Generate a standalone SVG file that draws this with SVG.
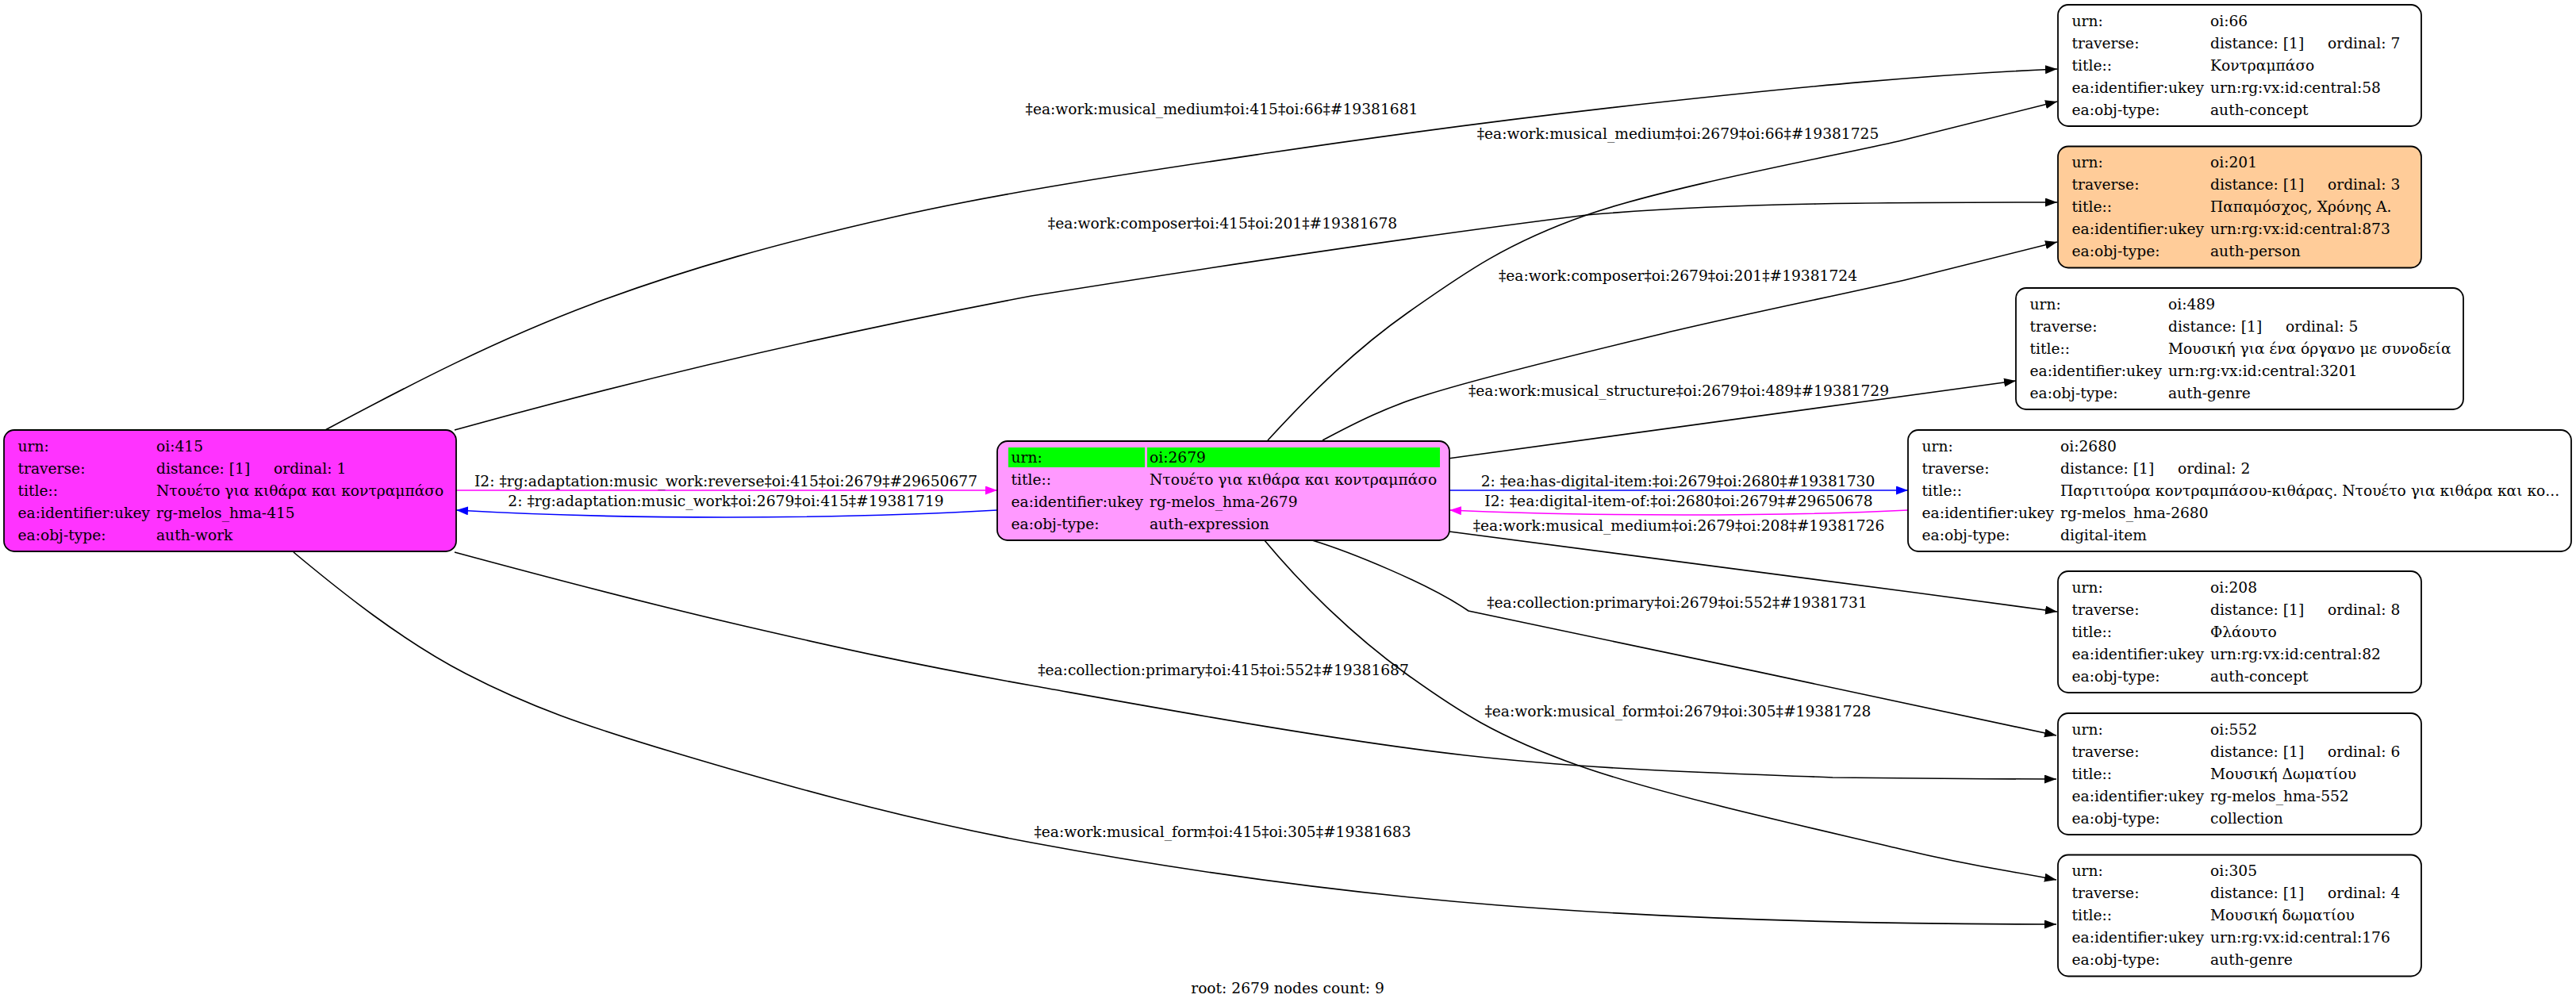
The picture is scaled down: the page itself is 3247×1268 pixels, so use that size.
<svg xmlns="http://www.w3.org/2000/svg" width="3247" height="1268" viewBox="0 0 3247 1268">
<style>
text{font-family:"DejaVu Serif","Liberation Serif",serif;font-size:18.67px;fill:#000}
.lbl{text-anchor:middle}
.box{stroke:#000;stroke-width:1.8}
.w{fill:#fff}
.e{fill:none;stroke-width:1.6}
.k{stroke:#000}
.b{stroke:#0000ff}
.m{stroke:#ff00ff}
</style>
<defs>
<marker id="ak" markerUnits="userSpaceOnUse" markerWidth="16" markerHeight="12" refX="15" refY="5.5" orient="auto"><path d="M0,0 L15,5.5 L0,11 z" fill="#000"/></marker>
<marker id="ab" markerUnits="userSpaceOnUse" markerWidth="16" markerHeight="12" refX="15" refY="5.5" orient="auto"><path d="M0,0 L15,5.5 L0,11 z" fill="#0000ff"/></marker>
<marker id="am" markerUnits="userSpaceOnUse" markerWidth="16" markerHeight="12" refX="15" refY="5.5" orient="auto"><path d="M0,0 L15,5.5 L0,11 z" fill="#ff00ff"/></marker>
</defs>
<rect width="3247" height="1268" fill="#fff"/>
<g id="edges">
<path class="e k" marker-end="url(#ak)" d="M410,542 C522,482 627,428 747,383 C867,338 987,305 1129,273 C1271,241 1435,217 1597,193 C1759,169 1934,146 2100,128 C2266,110 2429,94 2593,87"/>
<text class="lbl" x="1540" y="144">‡ea:work:musical_medium‡oi:415‡oi:66‡#19381681</text>
<path class="e k" marker-end="url(#ak)" d="M573,542 C815,475 1062,418 1300,373 C1538,335 1784,298 2000,271 C2180,255 2395,255 2593,255"/>
<text class="lbl" x="1541" y="288">‡ea:work:composer‡oi:415‡oi:201‡#19381678</text>
<path class="e k" marker-end="url(#ak)" d="M1598,555 C1653,495 1709,440 1776,393 C1843,346 1897,307 2000,271 C2103,235 2310,197 2393,178 L2593,128"/>
<text class="lbl" x="2115" y="175">‡ea:work:musical_medium‡oi:2679‡oi:66‡#19381725</text>
<path class="e k" marker-end="url(#ak)" d="M1667,555 C1710,532 1750,512 1800,497 C1872,474.5 1998,444 2098,420 C2198,396 2318,372 2401,353 L2593,305"/>
<text class="lbl" x="2115" y="354">‡ea:work:composer‡oi:2679‡oi:201‡#19381724</text>
<path class="e k" marker-end="url(#ak)" d="M1825,578 Q2150,535 2541,480"/>
<text class="lbl" x="2116" y="499">‡ea:work:musical_structure‡oi:2679‡oi:489‡#19381729</text>
<path class="e b" marker-end="url(#ab)" d="M1827,618 L2405,618"/>
<text class="lbl" x="2115" y="613">2: ‡ea:has-digital-item:‡oi:2679‡oi:2680‡#19381730</text>
<path class="e m" marker-end="url(#am)" d="M2405,643 C2250,651 2000,651 1827,643"/>
<text class="lbl" x="2116" y="638">I2: ‡ea:digital-item-of:‡oi:2680‡oi:2679‡#29650678</text>
<path class="e k" marker-end="url(#ak)" d="M1827,670 C2050,700 2330,735 2593,771"/>
<text class="lbl" x="2116" y="669">‡ea:work:musical_medium‡oi:2679‡oi:208‡#19381726</text>
<path class="e k" marker-end="url(#ak)" d="M1654,681 C1700,695 1800,735 1851,770 C2050,810 2400,887 2592,927"/>
<text class="lbl" x="2114" y="766">‡ea:collection:primary‡oi:2679‡oi:552‡#19381731</text>
<path class="e k" marker-end="url(#ak)" d="M1593,680 C1643,740 1706,801.5 1772,849 C1838,896.5 1886,928 1990,965 C2094,1002 2295,1046 2395,1070 C2495,1094 2526,1096 2592,1109"/>
<text class="lbl" x="2115" y="903">‡ea:work:musical_form‡oi:2679‡oi:305‡#19381728</text>
<path class="e m" marker-end="url(#am)" d="M575,618 L1257,618"/>
<text class="lbl" x="915" y="613">I2: ‡rg:adaptation:music_work:reverse‡oi:415‡oi:2679‡#29650677</text>
<path class="e b" marker-end="url(#ab)" d="M1257,643 C1050,655 780,655 575,643"/>
<text class="lbl" x="915" y="638">2: ‡rg:adaptation:music_work‡oi:2679‡oi:415‡#19381719</text>
<path class="e k" marker-end="url(#ak)" d="M573,696 C695,729 817,761 938,789 C1059,817 1148.5,837 1300,864 C1451.5,891 1679,933 1847,952 C2015,971 2186,975 2310,980 C2434,981 2498,982 2592,982"/>
<text class="lbl" x="1542" y="851">‡ea:collection:primary‡oi:415‡oi:552‡#19381687</text>
<path class="e k" marker-end="url(#ak)" d="M370,696 C430,746 506,807 587,849 C668,891 736,914.5 855,950 C974,985.5 1128,1030 1300,1062 C1472,1094 1674,1124 1889,1141 C2104,1158 2359,1165 2592,1165"/>
<text class="lbl" x="1541" y="1055">‡ea:work:musical_form‡oi:415‡oi:305‡#19381683</text>
</g>
<g id="n415" transform="translate(5,542)">
<rect class="box" width="570" height="153" rx="13" fill="#ff33ff"/>
<text x="17.5" y="26.5">urn:</text><text x="192" y="26.5">oi:415</text>
<text x="17.5" y="54.5">traverse:</text><text x="192" y="54.5">distance: [1]</text><text x="340" y="54.5">ordinal: 1</text>
<text x="17.5" y="82.5">title::</text><text x="192" y="82.5">Ντουέτο για κιθάρα και κοντραμπάσο</text>
<text x="17.5" y="110.5">ea:identifier:ukey</text><text x="192" y="110.5">rg-melos_hma-415</text>
<text x="17.5" y="138.5">ea:obj-type:</text><text x="192" y="138.5">auth-work</text>
</g>
<g id="n2679" transform="translate(1257,556)">
<rect class="box" width="570" height="125" rx="13" fill="#ff99ff"/>
<rect x="14" y="8" width="172" height="25" fill="#00ff00"/><rect x="189" y="8" width="369" height="25" fill="#00ff00"/>
<text x="17.5" y="26.5">urn:</text><text x="192" y="26.5">oi:2679</text>
<text x="17.5" y="54.5">title::</text><text x="192" y="54.5">Ντουέτο για κιθάρα και κοντραμπάσο</text>
<text x="17.5" y="82.5">ea:identifier:ukey</text><text x="192" y="82.5">rg-melos_hma-2679</text>
<text x="17.5" y="110.5">ea:obj-type:</text><text x="192" y="110.5">auth-expression</text>
</g>
<g id="n66" transform="translate(2594,6)">
<rect class="box w" width="458" height="153" rx="13"/>
<text x="17.5" y="26.5">urn:</text><text x="192" y="26.5">oi:66</text>
<text x="17.5" y="54.5">traverse:</text><text x="192" y="54.5">distance: [1]</text><text x="340" y="54.5">ordinal: 7</text>
<text x="17.5" y="82.5">title::</text><text x="192" y="82.5">Κοντραμπάσο</text>
<text x="17.5" y="110.5">ea:identifier:ukey</text><text x="192" y="110.5">urn:rg:vx:id:central:58</text>
<text x="17.5" y="138.5">ea:obj-type:</text><text x="192" y="138.5">auth-concept</text>
</g>
<g id="n201" transform="translate(2594,184.5)">
<rect class="box" width="458" height="153" rx="13" fill="#ffcc99"/>
<text x="17.5" y="26.5">urn:</text><text x="192" y="26.5">oi:201</text>
<text x="17.5" y="54.5">traverse:</text><text x="192" y="54.5">distance: [1]</text><text x="340" y="54.5">ordinal: 3</text>
<text x="17.5" y="82.5">title::</text><text x="192" y="82.5">Παπαμόσχος, Χρόνης Α.</text>
<text x="17.5" y="110.5">ea:identifier:ukey</text><text x="192" y="110.5">urn:rg:vx:id:central:873</text>
<text x="17.5" y="138.5">ea:obj-type:</text><text x="192" y="138.5">auth-person</text>
</g>
<g id="n489" transform="translate(2541,363)">
<rect class="box w" width="564" height="153" rx="13"/>
<text x="17.5" y="26.5">urn:</text><text x="192" y="26.5">oi:489</text>
<text x="17.5" y="54.5">traverse:</text><text x="192" y="54.5">distance: [1]</text><text x="340" y="54.5">ordinal: 5</text>
<text x="17.5" y="82.5">title::</text><text x="192" y="82.5">Μουσική για ένα όργανο με συνοδεία</text>
<text x="17.5" y="110.5">ea:identifier:ukey</text><text x="192" y="110.5">urn:rg:vx:id:central:3201</text>
<text x="17.5" y="138.5">ea:obj-type:</text><text x="192" y="138.5">auth-genre</text>
</g>
<g id="n2680" transform="translate(2405,542)">
<rect class="box w" width="836" height="153" rx="13"/>
<text x="17.5" y="26.5">urn:</text><text x="192" y="26.5">oi:2680</text>
<text x="17.5" y="54.5">traverse:</text><text x="192" y="54.5">distance: [1]</text><text x="340" y="54.5">ordinal: 2</text>
<text x="17.5" y="82.5">title::</text><text x="192" y="82.5">Παρτιτούρα κοντραμπάσου-κιθάρας. Ντουέτο για κιθάρα και κο...</text>
<text x="17.5" y="110.5">ea:identifier:ukey</text><text x="192" y="110.5">rg-melos_hma-2680</text>
<text x="17.5" y="138.5">ea:obj-type:</text><text x="192" y="138.5">digital-item</text>
</g>
<g id="n208" transform="translate(2594,720)">
<rect class="box w" width="458" height="153" rx="13"/>
<text x="17.5" y="26.5">urn:</text><text x="192" y="26.5">oi:208</text>
<text x="17.5" y="54.5">traverse:</text><text x="192" y="54.5">distance: [1]</text><text x="340" y="54.5">ordinal: 8</text>
<text x="17.5" y="82.5">title::</text><text x="192" y="82.5">Φλάουτο</text>
<text x="17.5" y="110.5">ea:identifier:ukey</text><text x="192" y="110.5">urn:rg:vx:id:central:82</text>
<text x="17.5" y="138.5">ea:obj-type:</text><text x="192" y="138.5">auth-concept</text>
</g>
<g id="n552" transform="translate(2594,899)">
<rect class="box w" width="458" height="153" rx="13"/>
<text x="17.5" y="26.5">urn:</text><text x="192" y="26.5">oi:552</text>
<text x="17.5" y="54.5">traverse:</text><text x="192" y="54.5">distance: [1]</text><text x="340" y="54.5">ordinal: 6</text>
<text x="17.5" y="82.5">title::</text><text x="192" y="82.5">Μουσική Δωματίου</text>
<text x="17.5" y="110.5">ea:identifier:ukey</text><text x="192" y="110.5">rg-melos_hma-552</text>
<text x="17.5" y="138.5">ea:obj-type:</text><text x="192" y="138.5">collection</text>
</g>
<g id="n305" transform="translate(2594,1077.5)">
<rect class="box w" width="458" height="153" rx="13"/>
<text x="17.5" y="26.5">urn:</text><text x="192" y="26.5">oi:305</text>
<text x="17.5" y="54.5">traverse:</text><text x="192" y="54.5">distance: [1]</text><text x="340" y="54.5">ordinal: 4</text>
<text x="17.5" y="82.5">title::</text><text x="192" y="82.5">Μουσική δωματίου</text>
<text x="17.5" y="110.5">ea:identifier:ukey</text><text x="192" y="110.5">urn:rg:vx:id:central:176</text>
<text x="17.5" y="138.5">ea:obj-type:</text><text x="192" y="138.5">auth-genre</text>
</g>
<text class="lbl" x="1623" y="1252">root: 2679 nodes count: 9</text>
</svg>
